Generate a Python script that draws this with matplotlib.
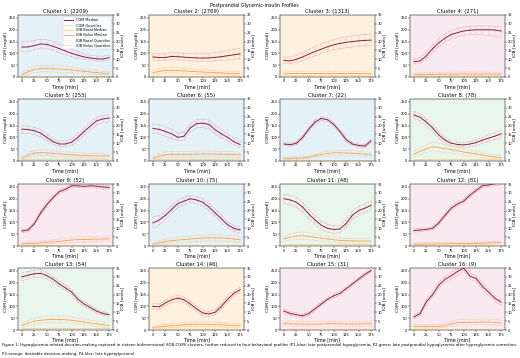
"""Postprandial glycemic-insulin profiles: 16 IOB-CGM clusters on a 4x4 grid."""
import matplotlib

matplotlib.use("Agg")
import matplotlib.pyplot as plt
from matplotlib.lines import Line2D

TIME_MIN = [0, 12.5, 25, 37.5, 50, 62.5, 75, 87.5, 100, 112.5, 125, 137.5, 150, 162.5, 175]

CLUSTER_SIZES = [2209, 2769, 1313, 271, 253, 55, 22, 78, 52, 75, 48, 81, 54, 46, 31, 9]

# P1 blue, P2 green, P3 orange, P4 lilac
CLUSTER_PROFILE = ["P1", "P3", "P3", "P4",
                   "P1", "P1", "P1", "P2",
                   "P4", "P1", "P2", "P4",
                   "P2", "P3", "P4", "P4"]

CGM_MEDIAN = [
    [127, 127, 133, 140, 138, 130, 120, 110, 100, 92, 85, 80, 77, 76, 82],
    [85, 82, 83, 87, 86, 84, 82, 81, 80, 81, 83, 86, 90, 94, 98],
    [70, 68, 75, 85, 97, 108, 118, 128, 136, 142, 147, 150, 153, 155, 156],
    [65, 68, 90, 120, 145, 165, 180, 188, 195, 198, 200, 200, 200, 199, 195],
    [135, 133, 128, 118, 100, 82, 72, 72, 80, 100, 125, 148, 170, 178, 182],
    [138, 134, 125, 115, 100, 105, 140, 158, 160, 155, 132, 115, 100, 82, 70],
    [72, 69, 75, 100, 135, 165, 180, 175, 155, 125, 90, 72, 66, 63, 85],
    [195, 185, 165, 140, 110, 88, 75, 70, 68, 72, 78, 88, 97, 105, 115],
    [63, 68, 95, 140, 175, 205, 230, 240, 255, 255, 252, 255, 253, 250, 248],
    [98, 110, 130, 155, 180, 190, 200, 195, 185, 165, 140, 115, 90, 75, 68],
    [200, 195, 185, 165, 135, 110, 88, 75, 70, 72, 95, 130, 150, 160, 172],
    [65, 68, 70, 75, 98, 130, 160, 178, 190, 215, 235, 255, 258, 264, 268],
    [225, 232, 238, 240, 230, 215, 195, 178, 160, 130, 110, 95, 80, 70, 65],
    [100, 98, 115, 128, 135, 128, 110, 90, 72, 68, 75, 100, 130, 155, 170],
    [80, 70, 65, 60, 70, 90, 110, 130, 145, 155, 175, 195, 215, 235, 252],
    [55, 70, 120, 150, 190, 215, 230, 248, 262, 228, 218, 185, 160, 135, 118],
]

CGM_Q3 = [
    [150, 150, 155, 160, 158, 150, 140, 128, 117, 107, 99, 93, 89, 88, 94],
    [100, 98, 99, 103, 102, 100, 99, 98, 98, 100, 103, 107, 112, 117, 122],
    [85, 84, 92, 103, 117, 128, 140, 150, 158, 165, 170, 174, 177, 180, 182],
    [78, 82, 105, 137, 163, 183, 198, 206, 212, 215, 216, 216, 216, 215, 212],
    [150, 148, 143, 133, 115, 96, 85, 85, 93, 114, 140, 163, 185, 193, 197],
    [158, 154, 145, 135, 118, 125, 158, 175, 178, 173, 150, 132, 116, 97, 84],
    [78, 75, 82, 108, 143, 173, 188, 183, 163, 133, 98, 79, 72, 70, 92],
    [210, 200, 180, 155, 124, 100, 86, 80, 78, 83, 90, 101, 111, 120, 131],
    [70, 75, 103, 148, 183, 213, 238, 248, 262, 262, 260, 262, 261, 258, 256],
    [122, 130, 148, 172, 196, 206, 215, 210, 200, 180, 155, 130, 104, 88, 80],
    [220, 215, 205, 185, 155, 128, 105, 92, 86, 88, 112, 148, 168, 178, 190],
    [72, 75, 77, 82, 106, 138, 168, 186, 198, 223, 243, 262, 266, 272, 276],
    [242, 248, 253, 255, 244, 228, 207, 190, 171, 141, 120, 104, 89, 78, 72],
    [112, 110, 127, 140, 147, 140, 122, 102, 83, 79, 86, 111, 141, 166, 181],
    [88, 78, 73, 68, 78, 98, 118, 138, 153, 163, 183, 203, 223, 243, 260],
    [62, 78, 130, 162, 203, 228, 243, 260, 275, 241, 231, 198, 173, 148, 130],
]

CGM_Q1 = [
    [108, 108, 115, 123, 121, 113, 103, 94, 86, 80, 74, 70, 68, 67, 71],
    [72, 70, 70, 73, 72, 70, 68, 67, 66, 67, 68, 70, 72, 75, 78],
    [58, 56, 62, 70, 80, 90, 100, 108, 115, 120, 124, 127, 130, 132, 133],
    [55, 58, 77, 104, 128, 148, 162, 170, 177, 180, 180, 178, 175, 172, 168],
    [118, 117, 112, 102, 86, 70, 62, 62, 68, 86, 110, 132, 153, 162, 166],
    [118, 114, 105, 95, 84, 88, 122, 140, 142, 137, 115, 98, 85, 68, 58],
    [66, 63, 68, 92, 127, 157, 172, 167, 147, 117, 82, 65, 60, 57, 78],
    [180, 170, 150, 125, 96, 76, 64, 60, 58, 61, 66, 75, 83, 90, 99],
    [56, 61, 87, 132, 167, 197, 222, 232, 248, 248, 244, 248, 245, 242, 240],
    [76, 90, 112, 138, 164, 174, 185, 180, 170, 150, 125, 100, 76, 62, 56],
    [180, 175, 165, 145, 115, 92, 71, 58, 54, 56, 78, 112, 132, 142, 154],
    [58, 61, 63, 68, 90, 122, 152, 170, 182, 207, 227, 248, 250, 256, 260],
    [208, 216, 223, 225, 216, 202, 183, 166, 149, 119, 100, 86, 71, 62, 58],
    [88, 86, 103, 116, 123, 116, 98, 78, 61, 57, 64, 89, 119, 144, 159],
    [72, 62, 57, 52, 62, 82, 102, 122, 137, 147, 167, 187, 207, 227, 244],
    [48, 62, 110, 138, 177, 202, 217, 236, 249, 215, 205, 172, 147, 122, 106],
]

IOB_BOLUS_MEDIAN = [
    [1.5, 3.0, 4.2, 4.7, 4.7, 4.6, 4.5, 4.3, 4.0, 3.6, 3.2, 2.8, 2.5, 2.2, 2.0],
    [2.4, 3.2, 3.7, 3.7, 3.6, 3.4, 3.2, 3.0, 2.8, 2.6, 2.5, 2.3, 2.1, 2.0, 1.9],
    [1.8, 1.9, 2.0, 2.0, 2.0, 2.0, 2.0, 2.0, 2.0, 2.0, 2.0, 2.0, 1.9, 1.9, 1.8],
    [1.3, 1.4, 1.5, 1.5, 1.6, 1.6, 1.6, 1.7, 1.7, 1.7, 1.7, 1.7, 1.7, 1.6, 1.6],
    [1.5, 3.2, 4.5, 4.7, 4.6, 4.3, 4.0, 3.7, 3.5, 3.3, 3.1, 3.0, 2.9, 2.9, 2.9],
    [1.5, 2.8, 3.5, 3.8, 3.8, 3.8, 3.8, 3.9, 4.0, 4.0, 3.9, 3.8, 3.7, 3.6, 3.5],
    [1.5, 1.5, 1.6, 1.7, 2.2, 3.0, 3.8, 4.3, 4.6, 4.6, 4.5, 4.4, 4.2, 3.9, 3.5],
    [3.8, 5.5, 7.0, 8.0, 7.6, 7.0, 6.5, 5.8, 5.1, 4.5, 4.0, 3.4, 2.8, 2.3, 1.8],
    [1.2, 1.3, 1.5, 1.8, 2.0, 2.3, 2.6, 3.0, 3.4, 3.6, 3.7, 3.8, 3.9, 4.0, 4.0],
    [1.0, 1.8, 2.5, 3.0, 3.4, 3.6, 3.9, 4.2, 4.5, 4.6, 4.6, 4.5, 4.4, 4.0, 3.5],
    [4.0, 5.0, 5.6, 5.8, 5.5, 5.0, 4.5, 4.0, 3.5, 3.2, 3.0, 2.9, 2.8, 2.8, 2.8],
    [1.0, 1.0, 1.1, 1.1, 1.2, 1.2, 1.3, 1.3, 1.4, 1.5, 1.5, 1.6, 1.7, 1.8, 2.0],
    [2.5, 4.0, 5.0, 5.5, 5.8, 6.0, 6.0, 5.8, 5.5, 5.0, 4.5, 4.0, 3.5, 3.0, 2.5],
    [1.5, 1.8, 2.2, 2.4, 2.6, 3.0, 3.2, 3.3, 3.3, 3.2, 3.0, 2.9, 2.7, 2.6, 2.5],
    [3.5, 3.5, 3.4, 3.4, 3.3, 3.3, 3.4, 3.5, 3.6, 3.5, 3.4, 3.4, 3.4, 3.5, 3.5],
    [2.0, 2.0, 2.0, 2.0, 2.1, 2.5, 3.5, 4.2, 4.3, 4.3, 4.4, 4.5, 4.5, 4.3, 4.0],
]

IOB_BOLUS_Q3 = [
    [2.6, 4.5, 6.0, 6.6, 6.6, 6.5, 6.3, 6.0, 5.6, 5.1, 4.6, 4.1, 3.7, 3.3, 3.0],
    [3.6, 4.6, 5.2, 5.3, 5.2, 5.0, 4.7, 4.4, 4.2, 3.9, 3.7, 3.5, 3.2, 3.0, 2.9],
    [2.8, 2.9, 3.1, 3.1, 3.1, 3.1, 3.1, 3.1, 3.1, 3.1, 3.1, 3.1, 3.0, 3.0, 2.8],
    [2.2, 2.3, 2.5, 2.5, 2.6, 2.7, 2.7, 2.8, 2.8, 2.8, 2.8, 2.8, 2.8, 2.7, 2.7],
    [2.6, 4.6, 6.1, 6.4, 6.3, 6.0, 5.6, 5.2, 5.0, 4.7, 4.5, 4.3, 4.2, 4.2, 4.2],
    [2.6, 4.2, 5.1, 5.5, 5.5, 5.5, 5.5, 5.6, 5.7, 5.7, 5.6, 5.5, 5.3, 5.2, 5.0],
    [2.2, 2.2, 2.3, 2.5, 3.0, 4.0, 5.0, 5.6, 6.0, 6.0, 5.9, 5.8, 5.6, 5.2, 4.7],
    [5.4, 7.4, 9.2, 10.4, 10.0, 9.3, 8.7, 7.9, 7.0, 6.3, 5.6, 4.9, 4.1, 3.5, 2.9],
    [2.0, 2.1, 2.4, 2.8, 3.1, 3.5, 3.9, 4.4, 4.9, 5.2, 5.3, 5.4, 5.5, 5.6, 5.6],
    [1.8, 2.9, 3.8, 4.4, 4.9, 5.2, 5.5, 5.9, 6.2, 6.4, 6.4, 6.3, 6.2, 5.7, 5.1],
    [5.5, 6.8, 7.6, 8.0, 7.6, 7.0, 6.4, 5.8, 5.1, 4.7, 4.4, 4.2, 4.1, 4.1, 4.1],
    [1.7, 1.7, 1.8, 1.8, 1.9, 2.0, 2.1, 2.1, 2.2, 2.3, 2.3, 2.4, 2.6, 2.7, 3.0],
    [3.8, 5.6, 6.8, 7.4, 7.8, 8.0, 8.0, 7.8, 7.4, 6.8, 6.2, 5.6, 5.0, 4.4, 3.7],
    [2.4, 2.8, 3.3, 3.6, 3.8, 4.3, 4.6, 4.7, 4.7, 4.6, 4.3, 4.2, 3.9, 3.8, 3.6],
    [4.8, 4.8, 4.7, 4.7, 4.6, 4.6, 4.7, 4.9, 5.0, 4.9, 4.8, 4.8, 4.8, 4.9, 4.9],
    [3.0, 3.0, 3.0, 3.0, 3.2, 3.7, 5.0, 5.8, 6.0, 6.0, 6.1, 6.2, 6.2, 6.0, 5.6],
]

IOB_BOLUS_Q1 = [
    [0.5, 1.6, 2.5, 2.9, 2.9, 2.8, 2.7, 2.6, 2.4, 2.1, 1.8, 1.6, 1.4, 1.2, 1.0],
    [1.3, 1.9, 2.3, 2.3, 2.2, 2.0, 1.8, 1.7, 1.5, 1.4, 1.3, 1.2, 1.1, 1.0, 0.9],
    [0.8, 0.9, 1.0, 1.0, 1.0, 1.0, 1.0, 1.0, 1.0, 1.0, 1.0, 1.0, 0.9, 0.9, 0.8],
    [0.5, 0.6, 0.6, 0.6, 0.7, 0.7, 0.7, 0.7, 0.7, 0.7, 0.7, 0.7, 0.7, 0.6, 0.6],
    [0.5, 1.9, 3.0, 3.1, 3.0, 2.8, 2.5, 2.3, 2.1, 2.0, 1.8, 1.7, 1.6, 1.6, 1.6],
    [0.5, 1.5, 2.0, 2.2, 2.2, 2.2, 2.2, 2.3, 2.4, 2.4, 2.3, 2.2, 2.1, 2.0, 2.0],
    [0.8, 0.8, 0.9, 1.0, 1.4, 2.0, 2.6, 3.0, 3.2, 3.2, 3.1, 3.0, 2.9, 2.6, 2.3],
    [2.3, 3.7, 4.9, 5.7, 5.3, 4.8, 4.4, 3.8, 3.3, 2.8, 2.4, 2.0, 1.6, 1.2, 0.8],
    [0.5, 0.6, 0.7, 0.9, 1.0, 1.2, 1.4, 1.7, 2.0, 2.1, 2.2, 2.3, 2.4, 2.5, 2.5],
    [0.3, 0.8, 1.3, 1.6, 1.9, 2.0, 2.3, 2.5, 2.8, 2.8, 2.8, 2.7, 2.6, 2.4, 2.0],
    [2.6, 3.3, 3.7, 3.8, 3.5, 3.1, 2.7, 2.3, 2.0, 1.8, 1.7, 1.6, 1.5, 1.5, 1.5],
    [0.4, 0.4, 0.4, 0.4, 0.5, 0.5, 0.6, 0.6, 0.7, 0.7, 0.7, 0.8, 0.9, 1.0, 1.1],
    [1.3, 2.5, 3.3, 3.7, 3.9, 4.1, 4.1, 3.9, 3.7, 3.3, 2.9, 2.5, 2.1, 1.7, 1.4],
    [0.7, 0.9, 1.2, 1.3, 1.5, 1.8, 1.9, 2.0, 2.0, 1.9, 1.8, 1.7, 1.6, 1.5, 1.4],
    [2.3, 2.3, 2.2, 2.2, 2.1, 2.1, 2.2, 2.3, 2.3, 2.2, 2.1, 2.1, 2.1, 2.2, 2.2],
    [1.1, 1.1, 1.1, 1.1, 1.2, 1.5, 2.2, 2.7, 2.8, 2.8, 2.8, 2.9, 2.9, 2.7, 2.5],
]

IOB_BASAL_MEDIAN = [
    [0.8, 0.8, 0.8, 0.8, 0.8, 0.8, 0.8, 0.8, 0.8, 0.8, 0.8, 0.8, 0.8, 0.8, 0.8],
    [0.7, 0.7, 0.7, 0.7, 0.7, 0.7, 0.7, 0.7, 0.7, 0.7, 0.7, 0.7, 0.7, 0.7, 0.7],
    [0.7, 0.7, 0.7, 0.7, 0.7, 0.7, 0.7, 0.7, 0.7, 0.7, 0.7, 0.7, 0.7, 0.7, 0.7],
    [0.6, 0.6, 0.6, 0.6, 0.6, 0.6, 0.6, 0.6, 0.6, 0.6, 0.6, 0.6, 0.6, 0.6, 0.6],
    [0.8, 0.8, 0.8, 0.8, 0.8, 0.8, 0.7, 0.7, 0.7, 0.7, 0.7, 0.7, 0.7, 0.7, 0.7],
    [0.9, 0.9, 0.9, 0.9, 0.9, 0.9, 0.9, 0.9, 0.9, 0.9, 0.9, 0.9, 0.9, 0.9, 0.9],
    [0.8, 0.8, 0.8, 0.8, 0.8, 0.8, 0.8, 0.8, 0.8, 0.8, 0.8, 0.8, 0.8, 0.8, 0.8],
    [0.9, 0.9, 0.9, 0.9, 0.9, 0.9, 0.9, 0.9, 0.9, 0.9, 0.9, 0.9, 0.9, 0.9, 0.9],
    [0.6, 0.6, 0.6, 0.6, 0.6, 0.6, 0.6, 0.6, 0.6, 0.6, 0.6, 0.6, 0.6, 0.6, 0.6],
    [0.7, 0.7, 0.7, 0.7, 0.7, 0.7, 0.7, 0.7, 0.7, 0.7, 0.7, 0.7, 0.7, 0.7, 0.7],
    [1.0, 1.0, 1.0, 1.0, 1.0, 1.0, 1.0, 1.0, 1.0, 1.0, 1.0, 1.0, 1.0, 1.0, 1.0],
    [0.6, 0.6, 0.6, 0.6, 0.6, 0.6, 0.6, 0.6, 0.6, 0.6, 0.6, 0.6, 0.6, 0.6, 0.6],
    [0.9, 0.9, 0.9, 0.9, 0.9, 0.9, 0.9, 0.9, 0.9, 0.9, 0.9, 0.9, 0.9, 0.9, 0.9],
    [0.7, 0.7, 0.7, 0.7, 0.7, 0.7, 0.7, 0.7, 0.7, 0.7, 0.7, 0.7, 0.7, 0.7, 0.7],
    [0.8, 0.8, 0.8, 0.8, 0.8, 0.8, 0.8, 0.8, 0.8, 0.8, 0.8, 0.8, 0.8, 0.8, 0.8],
    [0.7, 0.7, 0.7, 0.7, 0.7, 0.7, 0.7, 0.7, 0.7, 0.7, 0.7, 0.7, 0.7, 0.7, 0.7],
]

X_TICKS = [0, 25, 50, 75, 100, 125, 150, 175]
CGM_TICKS = [0, 50, 100, 150, 200, 250]
IOB_TICKS = [0, 5, 10, 15, 20, 25, 30, 35]

CAPTION_1 = (
    "Figure 1. Hypoglycemia-related decision-making captured in sixteen bidimensional (IOB-CGM) "
    "clusters, further reduced to four behavioral profiles (P1-blue: late postprandial hypoglycemia, "
    "P2-green: late postprandial hypoglycemia after hyperglycemic correction,"
)
CAPTION_2 = "P3-orange: desirable decision-making, P4-lilac: late hyperglycemia)."

PROFILE_BG = {"P1": "#e4f1f7", "P2": "#e9f6ee", "P3": "#fdf0dc", "P4": "#f9eaf2"}
CGM_COLOR = "#8c1c3c"
CGM_Q_COLOR = "#e79a9f"
BOLUS_COLOR = "#f3a04e"
BOLUS_Q_COLOR = "#f8c48e"
BASAL_COLOR = "#f2d27a"
BASAL_Q_COLOR = "#f7e3aa"

W, H = 520, 358
COL_LEFT = [18, 149, 280, 410]
ROW_TOP = [15, 99, 184, 268]
AX_W, AX_H = 95, 62

fig = plt.figure(figsize=(W / 100, H / 100), dpi=100)
fig.text(0.49, 1 - 5 / H, "Postprandial Glycemic-insulin Profiles", ha="center", va="center", fontsize=3.4)

for i in range(16):
    r, c = divmod(i, 4)
    ax = fig.add_axes([COL_LEFT[c] / W, 1 - (ROW_TOP[r] + AX_H) / H, AX_W / W, AX_H / H])
    ax.set_facecolor(PROFILE_BG[CLUSTER_PROFILE[i]])

    ax.vlines(TIME_MIN, CGM_Q1[i], CGM_Q3[i], color=CGM_Q_COLOR, lw=0.3, alpha=0.7)
    ax.plot(TIME_MIN, CGM_Q1[i], color=CGM_Q_COLOR, lw=0.4, ls="--")
    ax.plot(TIME_MIN, CGM_Q3[i], color=CGM_Q_COLOR, lw=0.4, ls="--")
    ax.plot(TIME_MIN, CGM_MEDIAN[i], color=CGM_COLOR, lw=0.7)
    ax.set_xlim(-8, 183)
    ax.set_ylim(0, 262.5)
    ax.set_xticks(X_TICKS)
    ax.set_yticks(CGM_TICKS)
    ax.set_xlabel("Time [min]", fontsize=3.4, labelpad=0.3)
    ax.set_ylabel("CGM [mg/dl]", fontsize=3.1, labelpad=0.5)
    ax.set_title(f"Cluster {i + 1}: ({CLUSTER_SIZES[i]})", fontsize=3.8, pad=1.5)

    ax2 = ax.twinx()
    ax2.plot(TIME_MIN, IOB_BASAL_MEDIAN[i], color=BASAL_COLOR, lw=0.5)
    ax2.vlines(TIME_MIN, IOB_BOLUS_Q1[i], IOB_BOLUS_Q3[i], color=BOLUS_Q_COLOR, lw=0.3, alpha=0.7)
    ax2.plot(TIME_MIN, IOB_BOLUS_Q1[i], color=BOLUS_Q_COLOR, lw=0.4, ls="--")
    ax2.plot(TIME_MIN, IOB_BOLUS_Q3[i], color=BOLUS_Q_COLOR, lw=0.4, ls="--")
    ax2.plot(TIME_MIN, IOB_BOLUS_MEDIAN[i], color=BOLUS_COLOR, lw=0.6)
    ax2.set_ylim(0, 35)
    ax2.set_yticks(IOB_TICKS)
    ax2.set_ylabel("IOB [units]", fontsize=3.1, labelpad=0.5)

    for a in (ax, ax2):
        a.tick_params(labelsize=2.6, length=1.2, width=0.3, pad=0.6)
        for s in a.spines.values():
            s.set_linewidth(0.3)
            s.set_color("#555555")

    if i == 0:
        handles = [
            Line2D([], [], color=CGM_COLOR, lw=0.7, label="CGM Median"),
            Line2D([], [], color=CGM_Q_COLOR, lw=0.4, ls="--", label="CGM Quartiles"),
            Line2D([], [], color=BASAL_COLOR, lw=0.6, label="IOB Basal Median"),
            Line2D([], [], color=BOLUS_COLOR, lw=0.6, label="IOB Bolus Median"),
            Line2D([], [], color=BASAL_Q_COLOR, lw=0.4, ls="--", label="IOB Basal Quartiles"),
            Line2D([], [], color=BOLUS_Q_COLOR, lw=0.4, ls="--", label="IOB Bolus Quartiles"),
        ]
        leg = ax2.legend(handles=handles, loc="upper right", fontsize=2.5, frameon=True,
                         handlelength=2.5, borderpad=0.4, labelspacing=0.3, framealpha=0.9)
        leg.get_frame().set_linewidth(0.3)

fig.text(2 / W, 1 - 345 / H, CAPTION_1, ha="left", va="center", fontsize=2.75)
fig.text(2 / W, 1 - 354 / H, CAPTION_2, ha="left", va="center", fontsize=2.75)

fig.savefig("out.png", dpi=100)
